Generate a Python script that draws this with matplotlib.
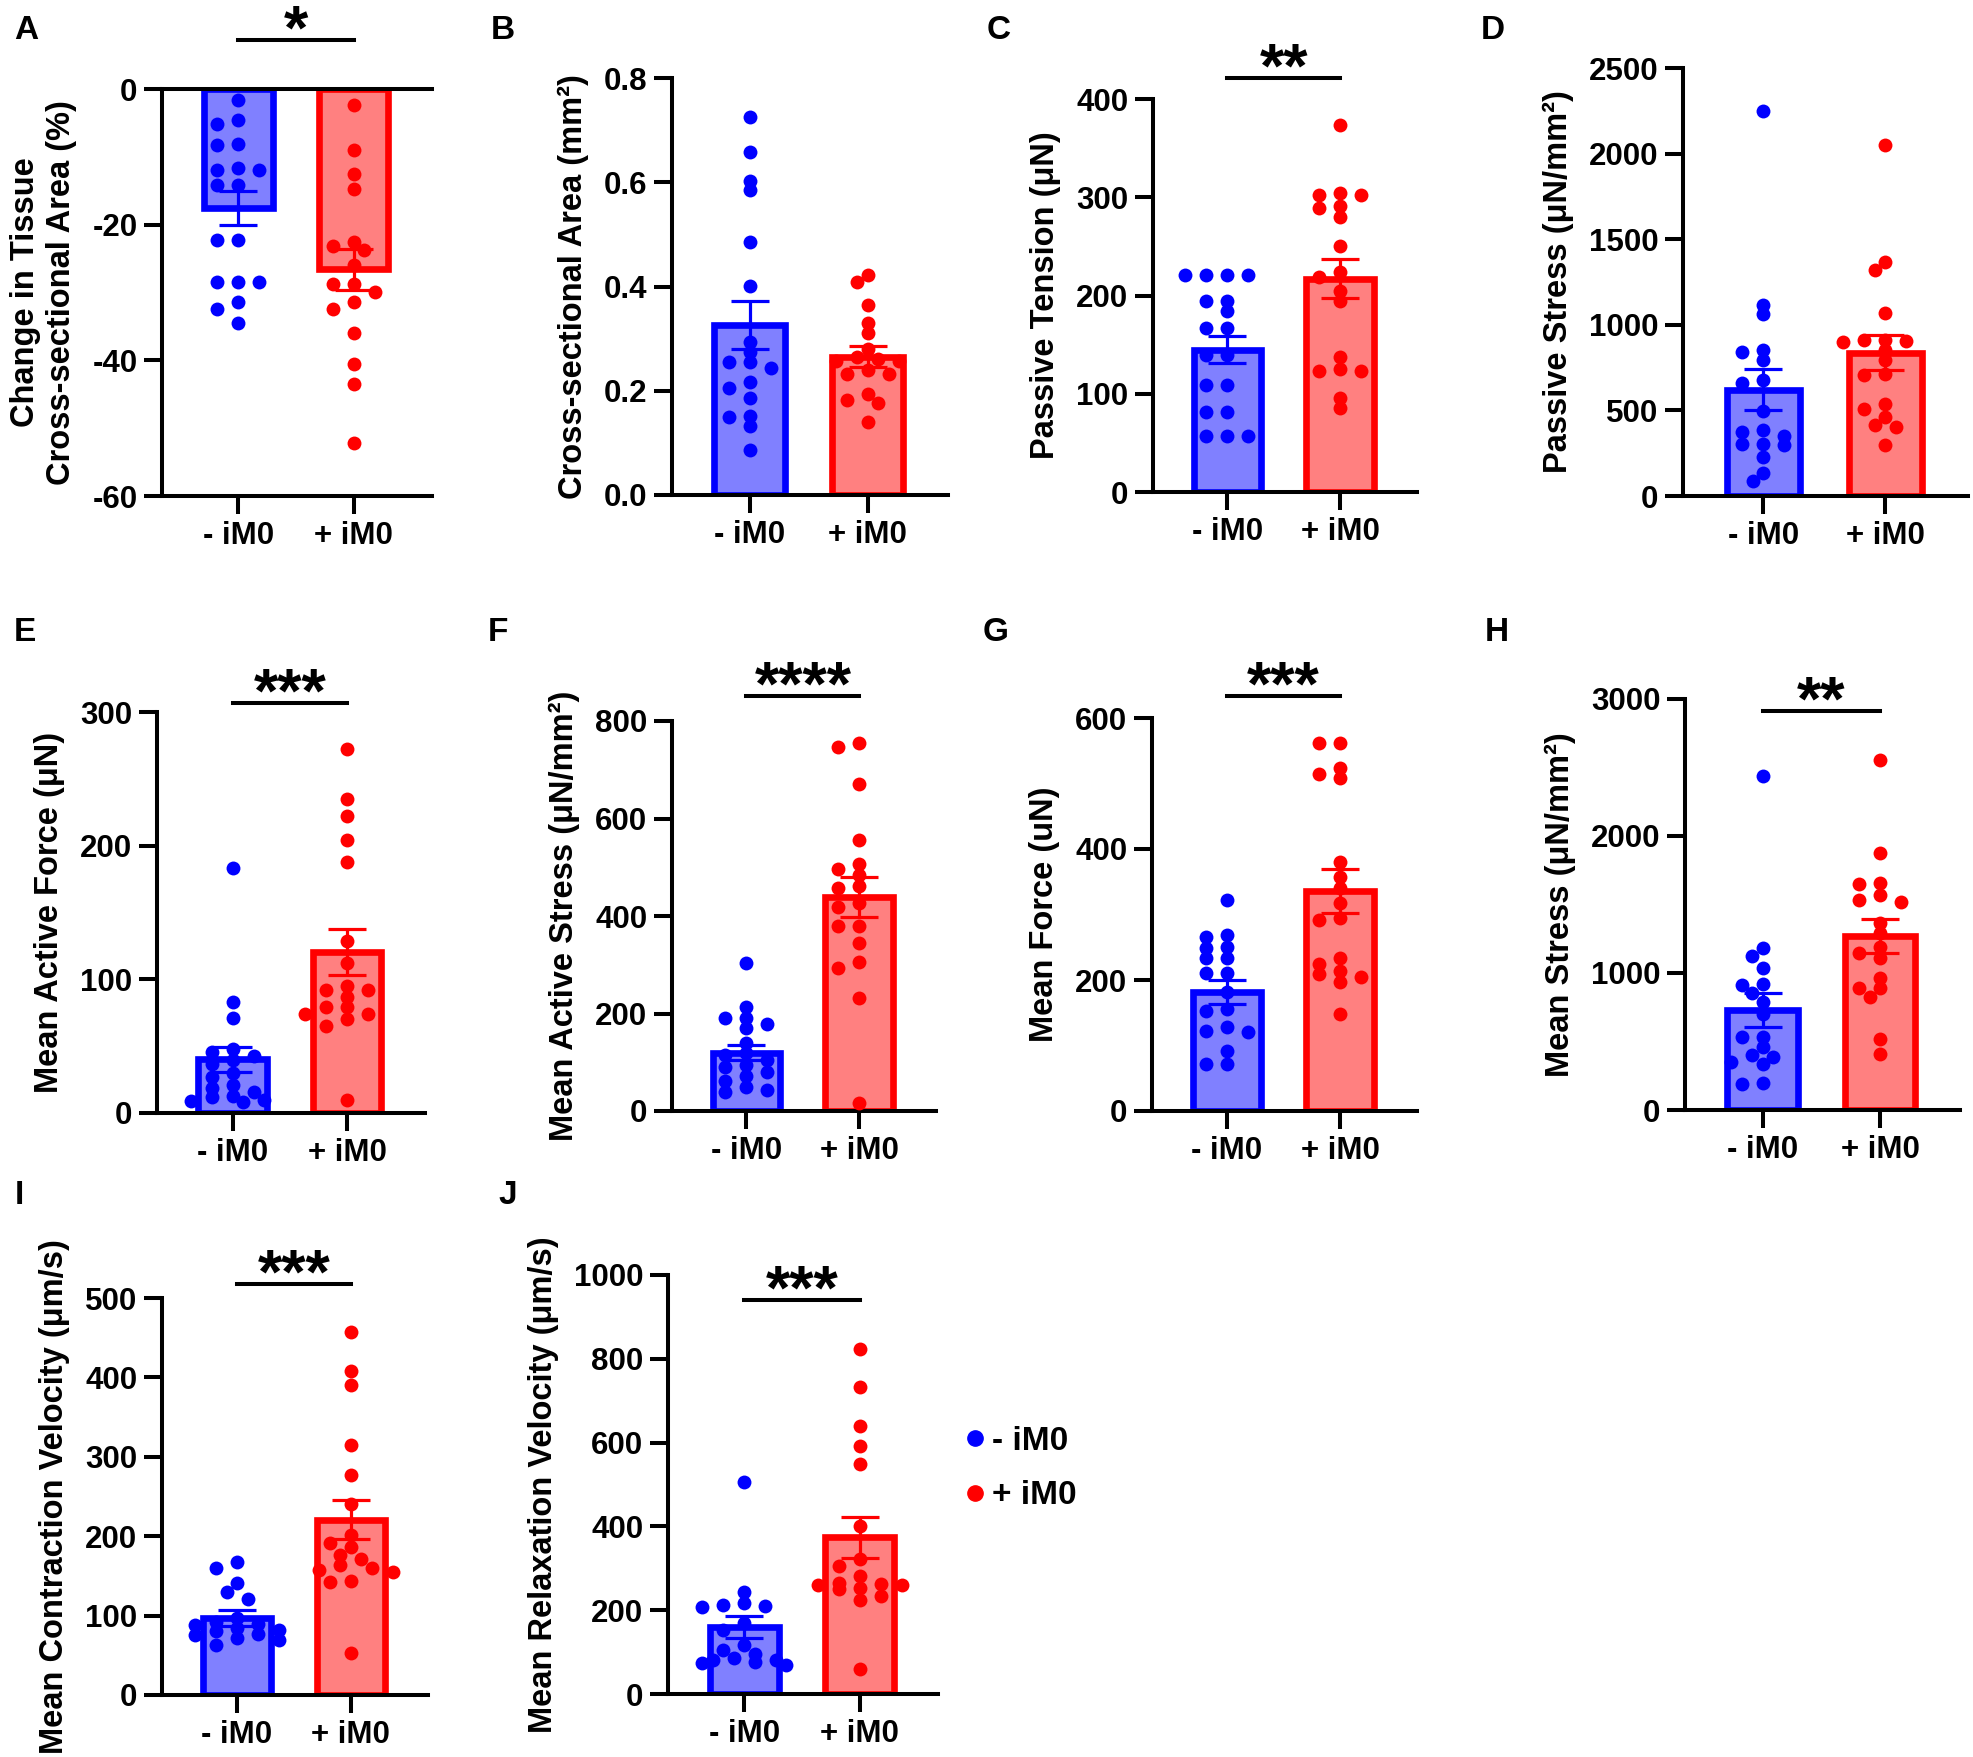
import numpy as np
import matplotlib.pyplot as plt
from matplotlib.lines import Line2D

plt.rcParams['font.family'] = ['Liberation Sans', 'DejaVu Sans']
plt.rcParams['font.weight'] = 'bold'
plt.rcParams['axes.labelweight'] = 'bold'

W, H = 1974, 1757
BLUE, RED = '#0000ff', '#ff0000'
BLUE_FILL, RED_FILL = '#8080ff', '#ff8080'
groups = ['- iM0', '+ iM0']

# ---- data ----
a_minus = [-1.6, -4.6, -5.2, -8.1, -8.3, -11.6, -12.0, -12.0, -14.1, -14.1, -22.2, -22.2,
           -28.4, -28.4, -28.4, -31.4, -32.4, -34.5]
a_plus = [-2.3, -9.0, -12.5, -14.7, -22.5, -23.1, -23.7, -25.9, -28.8, -28.8, -29.9, -31.4,
          -32.5, -36.0, -40.5, -43.5, -52.2]
a_mean, a_sem = [-17.6, -26.6], [2.5, 3.0]

b_minus = [0.725, 0.658, 0.603, 0.585, 0.485, 0.401, 0.293, 0.274, 0.256, 0.256, 0.243, 0.217,
           0.206, 0.187, 0.151, 0.149, 0.132, 0.087]
b_plus = [0.423, 0.408, 0.365, 0.330, 0.310, 0.281, 0.264, 0.260, 0.257, 0.257, 0.240, 0.233,
          0.233, 0.193, 0.182, 0.177, 0.141]
b_mean, b_sem = [0.326, 0.265], [0.046, 0.020]

c_minus = [221, 221, 221, 221, 194, 194, 184, 167, 167, 139, 139, 109, 109, 81, 81, 57, 57, 57]
c_plus = [374, 304, 302, 302, 291, 289, 280, 250, 224, 219, 205, 194, 137, 125, 123, 123, 96, 85]
c_mean, c_sem = [145, 217], [14, 20]

d_minus = [2247, 1114, 1061, 855, 841, 796, 676, 660, 495, 384, 374, 350, 306, 302, 296, 228, 134, 86]
d_plus = [2052, 1367, 1318, 1069, 909, 909, 905, 900, 851, 792, 715, 705, 539, 510, 461, 413, 403, 296]
d_mean, d_sem = [621, 837], [120, 102]

e_minus = [183, 83, 71, 48, 46, 43, 40, 37, 30, 27, 21, 19, 16, 13, 12, 10, 9, 8]
e_plus = [272, 235, 222, 204, 188, 129, 112, 95, 92, 92, 87, 79, 79, 74, 74, 70, 65, 10]
e_mean, e_sem = [40.2, 120.5], [9.5, 17]

f_minus = [303, 213, 190, 190, 178, 170, 140, 120, 115, 105, 95, 90, 80, 72, 61, 50, 44, 40]
f_plus = [755, 746, 670, 555, 507, 497, 485, 461, 458, 426, 418, 380, 380, 344, 305, 294, 232, 17]
f_mean, f_sem = [120, 439], [16, 42]

g_minus = [322, 268, 265, 251, 249, 234, 234, 210, 210, 181, 156, 153, 129, 122, 121, 91, 72, 71]
g_plus = [562, 562, 523, 514, 508, 380, 358, 340, 317, 295, 292, 234, 224, 213, 209, 204, 197, 148]
g_mean, g_sem = [182, 336], [18, 33]

h_minus = [2440, 1185, 1124, 1039, 917, 912, 852, 786, 698, 535, 535, 462, 401, 389, 348, 333, 195, 187]
h_plus = [2555, 1878, 1655, 1647, 1569, 1533, 1521, 1367, 1294, 1192, 1148, 1107, 961, 888, 888, 827,
          516, 409]
h_mean, h_sem = [730, 1270], [125, 122]

i_minus = [168, 160, 141, 130, 121, 97, 92, 90, 88, 85, 82, 80, 77, 75, 72, 69, 63]
i_plus = [457, 408, 390, 315, 277, 240, 201, 192, 187, 176, 171, 164, 160, 158, 155, 143, 142, 53]
i_mean, i_sem = [97.4, 221], [10, 25]

j_minus = [505, 244, 218, 213, 209, 207, 169, 152, 117, 105, 96, 86, 82, 82, 77, 75, 70]
j_plus = [823, 733, 640, 593, 548, 402, 323, 305, 281, 266, 263, 261, 261, 253, 250, 235, 224, 60]
j_mean, j_sem = [160.5, 373.7], [26, 48]

panels = [
    ('A', 'Change in Tissue\nCross-sectional Area (%)', (a_minus, a_plus), a_mean, a_sem,
     [-60, -40, -20, 0], '{:.0f}', '*'),
    ('B', 'Cross-sectional Area (mm²)', (b_minus, b_plus), b_mean, b_sem,
     [0, 0.2, 0.4, 0.6, 0.8], '{:.1f}', None),
    ('C', 'Passive Tension (μN)', (c_minus, c_plus), c_mean, c_sem,
     [0, 100, 200, 300, 400], '{:.0f}', '**'),
    ('D', 'Passive Stress (μN/mm²)', (d_minus, d_plus), d_mean, d_sem,
     [0, 500, 1000, 1500, 2000, 2500], '{:.0f}', None),
    ('E', 'Mean Active Force (μN)', (e_minus, e_plus), e_mean, e_sem,
     [0, 100, 200, 300], '{:.0f}', '***'),
    ('F', 'Mean Active Stress (μN/mm²)', (f_minus, f_plus), f_mean, f_sem,
     [0, 200, 400, 600, 800], '{:.0f}', '****'),
    ('G', 'Mean Force (uN)', (g_minus, g_plus), g_mean, g_sem,
     [0, 200, 400, 600], '{:.0f}', '***'),
    ('H', 'Mean Stress (μN/mm²)', (h_minus, h_plus), h_mean, h_sem,
     [0, 1000, 2000, 3000], '{:.0f}', '**'),
    ('I', 'Mean Contraction Velocity (μm/s)', (i_minus, i_plus), i_mean, i_sem,
     [0, 100, 200, 300, 400, 500], '{:.0f}', '***'),
    ('J', 'Mean Relaxation Velocity (μm/s)', (j_minus, j_plus), j_mean, j_sem,
     [0, 200, 400, 600, 800, 1000], '{:.0f}', '***'),
]

# ---- layout (pixels): left, right, top, bottom of each axes ----
boxes = {'A': (162, 432, 89, 496), 'B': (672, 948, 78, 495), 'C': (1153, 1417, 99, 492),
         'D': (1683, 1968, 68, 496), 'E': (157, 425, 712, 1113), 'F': (672, 936, 721, 1111),
         'G': (1152, 1417, 718, 1111), 'H': (1685, 1960, 699, 1110), 'I': (162, 428, 1298, 1695),
         'J': (668, 938, 1275, 1694)}
sig_line_px = {'A': 40, 'C': 78, 'E': 703, 'F': 696, 'G': 696, 'H': 711, 'I': 1284, 'J': 1300}
letter_pos = {'A': (14, 39), 'B': (491, 39), 'C': (987, 39), 'D': (1481, 39), 'E': (14, 641),
              'F': (488, 641), 'G': (983, 641), 'H': (1485, 641), 'I': (15, 1204), 'J': (498, 1204)}

XLIM = (-0.66, 1.68)
fig = plt.figure(figsize=(W / 100, H / 100), dpi=100)


def swarm(ax, values, step=10.5, sep_x=20, sep_y=9, max_steps=4):
    # simple beeswarm in pixel space, returns x offsets in data units
    vals = np.asarray(values, dtype=float)
    ypx = ax.transData.transform(np.column_stack([np.zeros(len(vals)), vals]))[:, 1]
    cands = [0.0]
    for k in range(1, max_steps + 1):
        cands += [-k * step, k * step]
    placed, offs = [], np.zeros(len(vals))
    for i in np.argsort(-vals):
        best, best_cost = 0.0, None
        for c in cands:
            cost = 0.0
            for px, py in placed:
                d = ((c - px) / sep_x) ** 2 + ((ypx[i] - py) / sep_y) ** 2
                if d < 1:
                    cost += 1 - d
            if cost == 0:
                best = c
                break
            if best_cost is None or cost < best_cost:
                best, best_cost = c, cost
        placed.append((best, ypx[i]))
        offs[i] = best
    width_px = ax.get_position().width * W
    return offs * (XLIM[1] - XLIM[0]) / width_px


for letter, ylabel, pts, means, sems, ticks, fmt, stars in panels:
    l, r, t, b = boxes[letter]
    ax = fig.add_axes([l / W, 1 - b / H, (r - l) / W, (b - t) / H])
    ax.set_xlim(*XLIM)
    ax.set_ylim(ticks[0], ticks[-1])
    ax.bar([0, 1], means, width=0.6, color=[BLUE_FILL, RED_FILL], edgecolor=[BLUE, RED],
           linewidth=4.8, zorder=1)
    for k, (vals, col) in enumerate(zip(pts, [BLUE, RED])):
        x = k + swarm(ax, vals)
        ax.scatter(x, vals, s=100, color=col, linewidths=0, zorder=3, clip_on=False)
        ax.errorbar(k, means[k], yerr=sems[k], fmt='none', ecolor=col, elinewidth=2.3,
                    capsize=14, capthick=2.3, zorder=4)
    ax.set_xticks([0, 1])
    ax.set_xticklabels(groups)
    ax.set_yticks(ticks)
    ax.set_yticklabels([fmt.format(v) for v in ticks])
    ax.tick_params(width=2.9, length=12.7, labelsize=22.5, pad=5)
    for s in ['left', 'bottom', 'top']:
        ax.spines[s].set_linewidth(2.9)
    ax.spines['right'].set_visible(False)
    if letter != 'A':
        ax.spines['top'].set_visible(False)
    ax.set_ylabel(ylabel, fontsize=23.5, labelpad=11)
    if stars:
        yf = (b - sig_line_px[letter]) / (b - t)
        tr = ax.get_xaxis_transform()
        ax.plot([0, 1], [yf, yf], color='black', lw=2.9, transform=tr, clip_on=False)
        ax.text(0.5, yf - 8 / (b - t), stars, transform=tr, ha='center', va='baseline',
                fontsize=45, fontweight='bold')
    lx, ly = letter_pos[letter]
    fig.text(lx / W, 1 - ly / H, letter, fontsize=24, fontweight='bold', va='baseline', ha='left')

handles = [Line2D([], [], marker='o', ls='none', color=BLUE, markersize=11),
           Line2D([], [], marker='o', ls='none', color=RED, markersize=11)]
fig.legend(handles, groups, loc='upper left', bbox_to_anchor=(962 / W, 1 - 1426 / H),
           frameon=False, handletextpad=0.1, handlelength=0.8, labelspacing=0.7,
           borderpad=0, borderaxespad=0, prop={'size': 24, 'weight': 'bold'})

fig.savefig('out.png', dpi=100)
